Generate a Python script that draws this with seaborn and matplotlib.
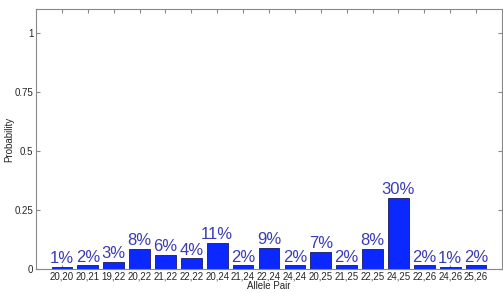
import numpy as np
import pandas as pd
import matplotlib
matplotlib.use("Agg")
import matplotlib.pyplot as plt
import seaborn as sns

# ===================== DATA =====================
allele_pairs = ["20,20", "20,21", "19,22", "20,22", "21,22", "22,22", "20,24",
                "21,24", "22,24", "24,24", "20,25", "21,25", "22,25", "24,25",
                "22,26", "24,26", "25,26"]
probability = [0.01, 0.015, 0.03, 0.085, 0.06, 0.045, 0.11,
               0.015, 0.09, 0.015, 0.072, 0.015, 0.085, 0.30,
               0.015, 0.01, 0.015]
pct_labels = ["1%", "2%", "3%", "8%", "6%", "4%", "11%",
              "2%", "9%", "2%", "7%", "2%", "8%", "30%",
              "2%", "1%", "2%"]

df = pd.DataFrame({"pair": allele_pairs, "prob": probability})

# ===================== PLOT =====================
sns.set_style("white")
plt.rcParams["font.family"] = ["Liberation Sans", "DejaVu Sans"]

fig = plt.figure(figsize=(5.03, 2.93), dpi=100)
ax = fig.add_axes([36 / 503, 24 / 293, 466 / 503, 260 / 293])

sns.barplot(data=df, x="pair", y="prob", color="#0A28FF", saturation=1,
            width=0.8, edgecolor="#1a1a60", linewidth=0.6, ax=ax)

for i, (v, t) in enumerate(zip(probability, pct_labels)):
    ax.text(i, v + 0.003, t, ha="center", va="bottom", fontsize=12,
            color="#3C3CB4")

ax.set_xlim(-1, 17)
ax.set_ylim(0, 1.1)
ax.set_yticks([0, 0.25, 0.5, 0.75, 1])
ax.set_yticklabels(["0", "0.25", "0.5", "0.75", "1"])
ax.set_xlabel("Allele Pair", fontsize=7)
ax.set_ylabel("Probability", fontsize=7)
# place labels as in the reference
ax.xaxis.set_label_coords(0.5, -0.048)
ax.yaxis.set_label_coords(-0.047, 0.5)
ax.tick_params(axis="both", labelsize=7, direction="in", length=3,
               color="#888888", top=True, right=True, pad=2,
               bottom=True, left=True)
for s in ax.spines.values():
    s.set_color("#888888")
    s.set_linewidth(0.8)

fig.savefig("out.png", dpi=100)
